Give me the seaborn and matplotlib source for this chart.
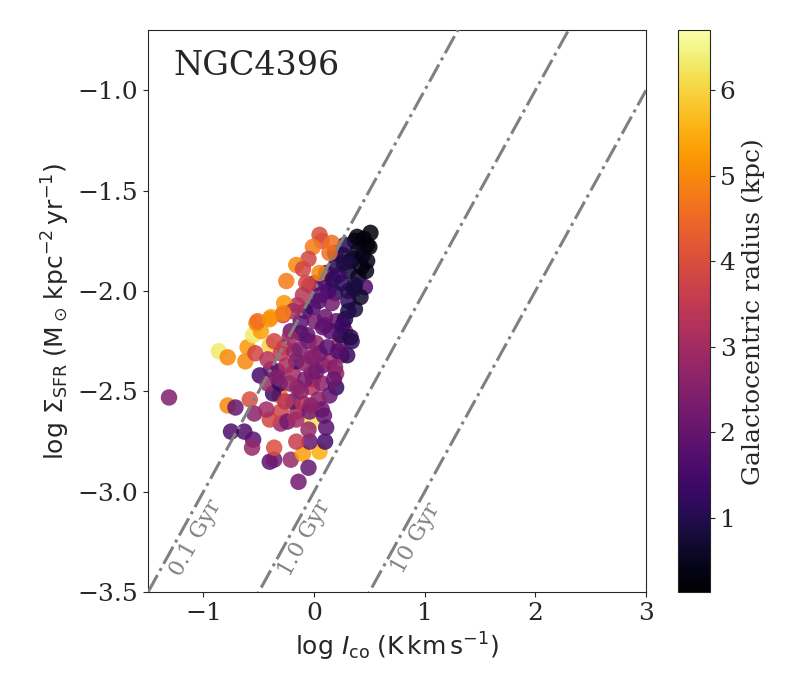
import numpy as np
import pandas as pd
import matplotlib
matplotlib.use('Agg')
import matplotlib.pyplot as plt
import seaborn as sns

sns.set_style('ticks')
plt.rcParams['font.family'] = ['DejaVu Serif']
plt.rcParams['mathtext.fontset'] = 'dejavusans'

# log I_co, log Sigma_SFR and galactocentric radius (kpc)
log_ico = [
    -0.86, -0.78, -0.62, -0.60, -0.53, -0.55, -0.48, -0.52, -0.40, -0.36,
    -0.49, -0.78, -0.71, -0.58, -0.54, -0.75, -0.63, -0.55, -0.56, -0.40,
    -0.36, -0.36, -0.21, -0.14, -0.10, 0.05, 0.10, -0.05, -0.04, -0.02,
    -0.16, -0.30, -0.30, -0.40, -0.43, -0.24, -0.16, -0.15, -0.05, -0.19,
    -0.10, -0.02, -0.15, -0.31, -0.37, -0.42, -0.31, -0.22, -0.33, -0.19,
    -0.39, -0.42, -0.30, -0.27, -0.16, -0.08, -0.18, -0.12, -0.21, -0.05,
    0.02, -0.02, -0.01, 0.07, 0.08, 0.14, 0.19, 0.20, 0.20, 0.25,
    0.23, 0.28, 0.34, 0.10, 0.05, 0.14, 0.04, -0.04, 0.07, -1.31,
    0.51, 0.45, 0.37, 0.28, 0.40, 0.48, 0.48, 0.35, 0.26, 0.19,
    0.20, 0.31, 0.40, 0.46, 0.37, 0.31, 0.25, 0.11, 0.10, 0.19,
    0.31, 0.37, 0.31, 0.16, 0.01, 0.04, -0.01, -0.08, 0.01, 0.10,
    0.20, -0.12, -0.04, 0.05, 0.07, 0.16, -0.01, 0.14, -0.05, -0.16,
    -0.10, -0.25, -0.07, 0.05, -0.10, -0.15, -0.27, -0.39, -0.51, -0.28,
    -0.19, -0.40, -0.28, 0.50, 0.47, 0.43, 0.33, 0.22, 0.13, 0.28,
    0.24, 0.15, 0.06, -0.06, -0.13, -0.25, 0.00, 0.12, 0.30, 0.18,
    -0.03, -0.26, -0.33, -0.08, 0.09, 0.22, 0.02, -0.12, -0.22, 0.11,
    0.42, 0.36, 0.27, 0.17, 0.08, -0.02, 0.26, 0.33, 0.44, 0.39,
]
log_sfr = [
    -2.30, -2.33, -2.35, -2.28, -2.31, -2.22, -2.20, -2.16, -2.27, -2.25,
    -2.42, -2.57, -2.58, -2.54, -2.61, -2.70, -2.70, -2.74, -2.78, -2.85,
    -2.84, -2.78, -2.84, -2.95, -2.81, -2.80, -2.75, -2.88, -2.75, -2.65,
    -2.75, -2.66, -2.60, -2.64, -2.59, -2.65, -2.64, -2.60, -2.69, -2.55,
    -2.56, -2.48, -2.48, -2.52, -2.51, -2.46, -2.46, -2.46, -2.40, -2.41,
    -2.39, -2.34, -2.31, -2.28, -2.35, -2.36, -2.30, -2.21, -2.20, -2.25,
    -2.26, -2.41, -2.44, -2.46, -2.37, -2.35, -2.38, -2.48, -2.41, -2.32,
    -2.26, -2.20, -2.25, -2.17, -2.31, -2.52, -2.54, -2.60, -2.59, -2.53,
    -1.71, -1.74, -1.75, -1.77, -1.80, -1.77, -1.85, -1.84, -1.82, -1.81,
    -1.87, -1.90, -1.93, -1.98, -1.97, -2.00, -1.96, -1.91, -1.96, -2.01,
    -2.05, -2.09, -2.10, -2.06, -1.96, -2.05, -2.08, -2.10, -2.15, -2.13,
    -2.15, -2.15, -1.97, -1.72, -1.75, -1.76, -1.78, -1.81, -1.84, -1.87,
    -1.89, -1.95, -1.96, -1.91, -2.02, -2.07, -2.06, -2.13, -2.15, -2.12,
    -2.10, -2.14, -2.11, -1.78, -1.90, -1.88, -1.85, -1.92, -2.00, -2.14,
    -2.22, -2.20, -2.02, -2.22, -2.29, -2.37, -2.33, -2.28, -2.32, -2.44,
    -2.57, -2.55, -2.43, -2.44, -2.62, -2.30, -2.40, -2.50, -2.23, -2.68,
    -2.03, -1.99, -1.86, -1.94, -2.18, -2.33, -2.17, -2.23, -1.82, -1.73,
]
radius = [
    6.3, 5.0, 5.0, 5.2, 3.8, 6.3, 5.3, 5.0, 6.0, 3.8,
    1.5, 5.0, 2.0, 4.0, 2.6, 1.6, 1.6, 1.8, 2.8, 1.8,
    2.2, 4.0, 2.8, 2.2, 5.3, 5.5, 1.5, 2.0, 2.0, 6.2,
    3.6, 2.8, 3.8, 3.8, 3.0, 2.2, 3.0, 3.0, 2.8, 2.0,
    3.3, 3.3, 2.8, 4.5, 1.4, 2.8, 1.3, 2.7, 1.8, 3.0,
    2.0, 3.3, 3.5, 3.6, 1.4, 2.6, 2.8, 1.4, 2.0, 2.0,
    2.7, 2.7, 3.2, 2.6, 2.2, 2.9, 2.4, 1.2, 2.7, 2.8,
    3.0, 2.8, 1.2, 2.7, 2.2, 2.0, 2.6, 2.2, 2.1, 2.4,
    0.15, 0.3, 0.5, 1.0, 0.5, 0.4, 0.3, 0.6, 0.9, 1.2,
    1.0, 0.7, 0.6, 1.6, 0.8, 0.9, 1.1, 1.3, 1.6, 1.1,
    1.2, 0.8, 0.9, 2.2, 1.8, 1.9, 1.7, 1.4, 2.3, 2.0,
    2.1, 1.9, 3.2, 4.0, 4.0, 4.6, 4.8, 4.6, 3.8, 5.0,
    3.8, 4.8, 3.8, 5.0, 3.4, 3.3, 5.2, 5.3, 4.6, 3.8,
    3.0, 5.1, 4.9, 0.2, 0.4, 0.35, 0.7, 1.3, 1.5, 1.0,
    1.1, 1.6, 1.7, 1.9, 2.4, 3.1, 2.5, 1.8, 1.2, 2.1,
    2.6, 3.4, 2.5, 2.3, 2.0, 1.7, 2.2, 2.6, 2.9, 1.8,
    0.6, 0.8, 0.9, 1.2, 1.9, 2.5, 1.3, 1.0, 0.4, 0.25,
]

# depletion time lines: log Sigma_SFR = log I_co + offset
tdep_labels = ['0.1 Gyr', '1.0 Gyr', '10 Gyr']
tdep_offsets = [-2.0, -3.0, -4.0]
label_x = [-1.07, -0.08, 0.92]
label_y = [-3.23, -3.23, -3.23]

df = pd.DataFrame({'log_ico': log_ico, 'log_sfr': log_sfr, 'radius': radius})

vmin, vmax = 0.13, 6.7
norm = plt.Normalize(vmin, vmax)

fig = plt.figure(figsize=(8, 7), dpi=100)
ax = fig.add_axes([0.185, 0.154, 0.6225, 0.803])
cax = fig.add_axes([0.8475, 0.154, 0.04, 0.803])

sns.scatterplot(data=df, x='log_ico', y='log_sfr', hue='radius', palette='inferno',
                hue_norm=norm, s=140, alpha=0.85, linewidth=0, legend=False, ax=ax, zorder=2)

xx = np.array([-1.5, 3.0])
for off, lab, tx, ty in zip(tdep_offsets, tdep_labels, label_x, label_y):
    ax.plot(xx, xx + off, ls='-.', color='grey', lw=2.2, zorder=3)
    ax.text(tx, ty, lab, rotation=61, color='grey', fontsize=16,
            ha='center', va='center', rotation_mode='anchor')

ax.text(0.05, 0.965, 'NGC4396', transform=ax.transAxes, fontsize=24, va='top', ha='left')

ax.set_xlim(-1.5, 3.0)
ax.set_ylim(-3.5, -0.7)
ax.set_xticks([-1, 0, 1, 2, 3])
ax.set_yticks([-3.5, -3.0, -2.5, -2.0, -1.5, -1.0])
ax.set_xlabel(r'$\log\,I_{\rm co}\;({\rm K\,km\,s^{-1}})$', fontsize=18)
ax.set_ylabel(r'$\log\,\Sigma_{\rm SFR}\;({\rm M_\odot\,kpc^{-2}\,yr^{-1}})$', fontsize=18)
ax.tick_params(labelsize=18)

sm = plt.cm.ScalarMappable(cmap='inferno', norm=norm)
cb = fig.colorbar(sm, cax=cax)
cb.set_ticks([1, 2, 3, 4, 5, 6])
cb.ax.tick_params(labelsize=18)
cb.set_label('Galactocentric radius (kpc)', fontsize=18)

fig.savefig('out.png', dpi=100)
